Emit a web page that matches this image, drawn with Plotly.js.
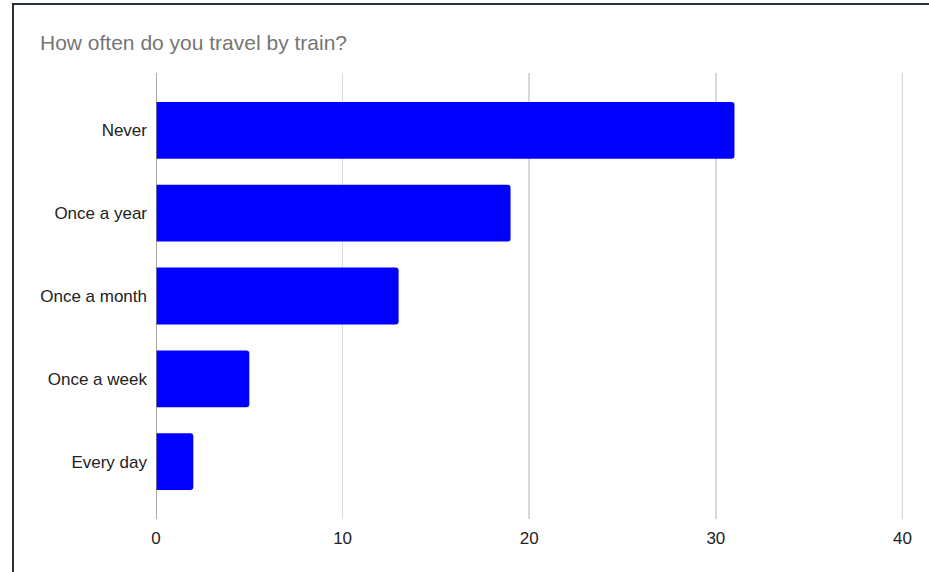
<!DOCTYPE html>
<html>
<head>
<meta charset="utf-8">
<script src="https://cdn.plot.ly/plotly-3.0.1.min.js"></script>
<style>
  html, body { margin: 0; padding: 0; background: #fff; }
  #wrap { position: relative; width: 929px; height: 572px; overflow: hidden; }
  #chart { width: 929px; height: 572px; }
  #frame { position: absolute; left: 12px; top: 3px; width: 940px; height: 600px;
           border-left: 2px solid #263238; border-top: 2px solid #263238; pointer-events: none; }
</style>
</head>
<body>
<div id="wrap">
  <div id="chart"></div>
  <div id="frame"></div>
</div>
<script>
const categories = ["Never", "Once a year", "Once a month", "Once a week", "Every day"];
const counts = [31, 19, 13, 5, 2];
const xTicks = [0, 10, 20, 30, 40];
const chartTitle = "How often do you travel by train?";

const trace = {
  type: "bar",
  orientation: "h",
  y: categories,
  x: counts,
  marker: { color: "#0000ff", cornerradius: 3 },
  hoverinfo: "x+y"
};

const pad = 0.1925;
const xMax = xTicks[xTicks.length - 1];
const layout = {
  width: 929,
  height: 572,
  margin: { l: 155.5, r: 26, t: 73, b: 53 },
  paper_bgcolor: "#ffffff",
  plot_bgcolor: "#ffffff",
  font: { family: "Liberation Sans, Arial, sans-serif", size: 17, color: "#222222" },
  title: {
    text: chartTitle,
    font: { family: "Liberation Sans, Arial, sans-serif", size: 21, color: "#757575" },
    xref: "container", yref: "container",
    x: 40 / 929, xanchor: "left",
    y: 1 - 43 / 572, yanchor: "middle"
  },
  bargap: 0.314,
  showlegend: false,
  xaxis: {
    range: [0, xMax + 0.03],
    tickvals: xTicks,
    ticktext: xTicks.map(String),
    showgrid: true,
    gridcolor: "#d9d9d9",
    gridwidth: 1.5,
    zeroline: false,
    showline: false,
    ticks: "",
    ticklabelstandoff: 7,
    tickfont: { size: 17, color: "#222222" },
    fixedrange: true
  },
  yaxis: {
    type: "category",
    categoryorder: "array",
    categoryarray: categories,
    range: [categories.length - 0.5 + pad, -0.5 - pad],
    showgrid: false,
    zeroline: false,
    showline: false,
    ticks: "",
    ticklabelstandoff: 8,
    tickfont: { size: 17, color: "#222222" },
    fixedrange: true
  },
  shapes: [
    { type: "line", xref: "x", yref: "paper", x0: xMax, x1: xMax, y0: 0, y1: 1,
      line: { color: "#d9d9d9", width: 1.5 }, layer: "below" },
    { type: "line", xref: "x", yref: "paper", x0: 0, x1: 0, y0: 0, y1: 1,
      line: { color: "#888888", width: 1.5 }, layer: "above" }
  ]
};

Plotly.newPlot("chart", [trace], layout, { displayModeBar: false, staticPlot: true });
</script>
</body>
</html>
